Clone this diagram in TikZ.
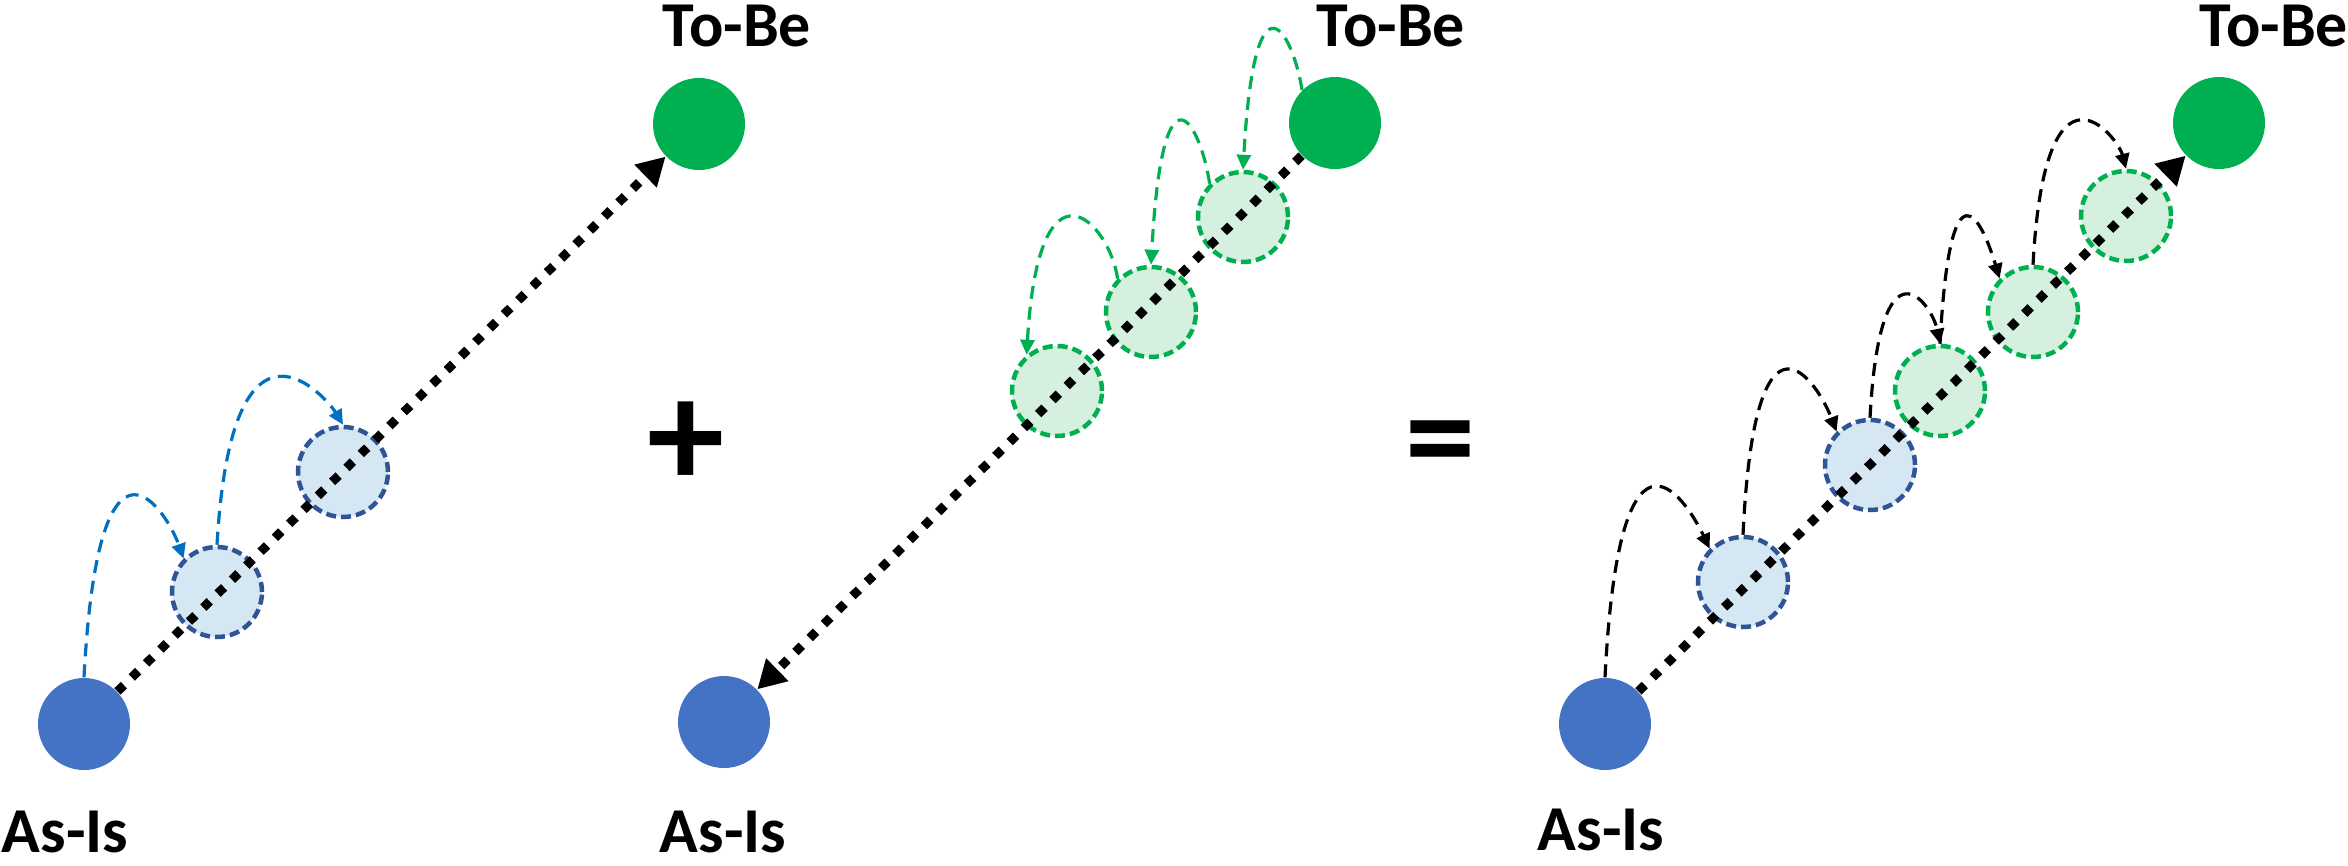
\documentclass[tikz,border=0pt]{standalone}
\usepackage{fontspec}
\setmainfont{Carlito}
\usetikzlibrary{arrows.meta}
\definecolor{asisblue}{HTML}{4472C4}
\definecolor{tobegreen}{HTML}{00B050}
\definecolor{stepfillb}{HTML}{D6E7F4}
\definecolor{stepdrawb}{HTML}{2F5597}
\definecolor{stepfillg}{HTML}{D6F0E0}
\definecolor{hopblue}{HTML}{0070C0}
\begin{document}
\begin{tikzpicture}[x=0.1mm, y=-0.1mm,
    state/.style={circle, inner sep=0pt, minimum size=9.2mm},
    stepb/.style={circle, inner sep=0pt, minimum size=9mm, line width=0.45mm, dash pattern=on 1mm off 0.5mm, draw=stepdrawb, fill=stepfillb},
    stepg/.style={circle, inner sep=0pt, minimum size=9mm, line width=0.45mm, dash pattern=on 1mm off 0.5mm, draw=tobegreen, fill=stepfillg},
    route/.style={line width=0.9mm, dash pattern=on 0.9mm off 1.1mm, -{Triangle[length=2.8mm, width=3mm]}},
    hop/.style={line width=0.32mm, dash pattern=on 1.3mm off 0.8mm, -{Triangle[length=1.5mm, width=1.4mm]}},
    lbl/.style={inner sep=0pt, font=\bfseries\fontsize{18.2pt}{20pt}\selectfont}]
  \useasboundingbox (0,0) rectangle (2348,865);
  % left: as-is side
  \node[state, fill=asisblue] (asis1) at (84,724) {};
  \node[state, fill=tobegreen] (tobe1) at (699,124) {};
  \node[stepb] (b1) at (217,592) {};
  \node[stepb] (b2) at (343,472) {};
  \node[lbl] (tobetext1) at (737,26) {To-Be};
  \node[lbl] (asistext1) at (65,832) {As-Is};
  \draw[route] (asis1) -- (tobe1);
  \draw[hop, hopblue] (asis1.north) .. controls +(15,-281) and +(-15,-43) .. (b1.135);
  \draw[hop, hopblue] (b1.north) .. controls +(15,-260) and +(-15,-25) .. (b2.north);

  \node[font=\bfseries\fontsize{44pt}{46pt}\selectfont, inner sep=0pt] (plus) at (686,445) {+};

  % middle: to-be side
  \node[state, fill=asisblue] (asis2) at (724,722) {};
  \node[state, fill=tobegreen] (tobe2) at (1335,123) {};
  \node[stepg] (g1) at (1057,391) {};
  \node[stepg] (g2) at (1151,312) {};
  \node[stepg] (g3) at (1243,217) {};
  \node[lbl] (tobetext2) at (1391,26) {To-Be};
  \node[lbl] (asistext2) at (723,832) {As-Is};
  \draw[route] (tobe2) -- (asis2);
  \draw[hop, tobegreen] (tobe2.135) .. controls +(-8,-53) and +(12,-213) .. (g3.north);
  \draw[hop, tobegreen] (g3.135) .. controls +(-8,-55) and +(12,-218) .. (g2.north);
  \draw[hop, tobegreen] (g2.135) .. controls +(-8,-56) and +(12,-208) .. (g1.130);

  \node[font=\bfseries\fontsize{40pt}{42pt}\selectfont, inner sep=0pt] (equals) at (1440,452) {=};

  % right: both together
  \node[state, fill=asisblue] (asis3) at (1605,724) {};
  \node[state, fill=tobegreen] (tobe3) at (2219,123) {};
  \node[stepb] (s1) at (1743,582) {};
  \node[stepb] (s2) at (1870,465) {};
  \node[stepg] (s3) at (1940,391) {};
  \node[stepg] (s4) at (2033,312) {};
  \node[stepg] (s5) at (2126,216) {};
  \node[lbl] (tobetext3) at (2274,26) {To-Be};
  \node[lbl] (asistext3) at (1601,830) {As-Is};
  \draw[route] (asis3) -- (tobe3);
  \draw[hop] (asis3.north) .. controls +(15,-296) and +(-18,-38) .. (s1.135);
  \draw[hop] (s1.north) .. controls +(12,-253) and +(-18,-47) .. (s2.135);
  \draw[hop] (s2.north) .. controls +(10,-187) and +(-8,-40) .. (s3.north);
  \draw[hop] (s3.north) .. controls +(10,-190) and +(-18,-60) .. (s4.135);
  \draw[hop] (s4.north) .. controls +(12,-223) and +(-8,-31) .. (s5.north);
\end{tikzpicture}
\end{document}
